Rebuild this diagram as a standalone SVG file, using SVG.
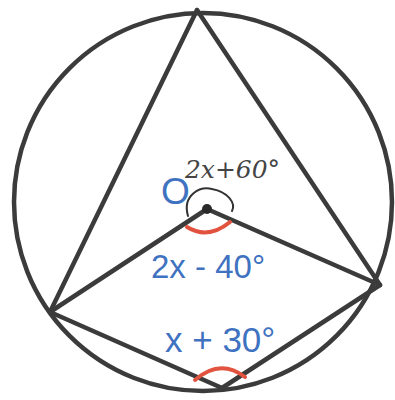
<svg xmlns="http://www.w3.org/2000/svg" width="395" height="400" viewBox="0 0 395 400">
<style>
.ln{stroke:#3b3b3b;stroke-width:4.5;fill:none;stroke-linecap:round;stroke-linejoin:round}
.red{stroke:#e2533f;stroke-width:4;fill:none;stroke-linecap:round}
.blk{stroke:#333;stroke-width:2;fill:none;stroke-linecap:round}
.lbl{font-family:"Liberation Sans",Arial,sans-serif;fill:#3f72c0}
.hand{font-family:"DejaVu Serif",serif;font-style:italic;fill:#444;font-size:25px}
</style>
<rect width="395" height="400" fill="#fff"/>
<g id="circle"><circle cx="203" cy="202" r="189" class="ln"/></g>
<g id="connectors">
<line x1="197" y1="10" x2="50" y2="312" class="ln"/>
<line x1="197" y1="10" x2="380" y2="285" class="ln"/>
<line x1="50" y1="312" x2="207" y2="209" class="ln"/>
<line x1="207" y1="209" x2="380" y2="285" class="ln"/>
<line x1="50" y1="312" x2="222" y2="388" class="ln"/>
<line x1="222" y1="388" x2="380" y2="285" class="ln"/>
</g>
<g id="centre-O">
<circle cx="207" cy="209" r="5" fill="#2a2a2a"/>
<text x="161" y="204" class="lbl" font-size="37">O</text>
</g>
<g id="angle-marks">
<path d="M187 227 Q208 240 230 222" class="red"/>
<path d="M195 380 Q220 358 245 377" class="red"/>
<path d="M188 216 C182 195 200 186 212 189 C228 192 236 203 232 211" class="blk"/>
</g>
<g id="labels">
<text x="151" y="278" class="lbl" font-size="33">2x - 40°</text>
<text x="165" y="352" class="lbl" font-size="35">x + 30°</text>
<text x="185" y="178" class="hand" textLength="95">2x+60°</text>
</g>
</svg>
